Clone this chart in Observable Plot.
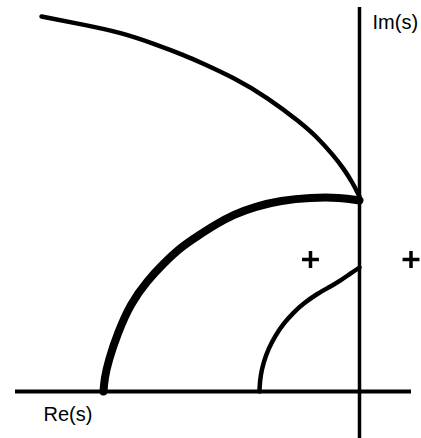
<!DOCTYPE html>
<html>
<head>
<meta charset="utf-8">
<script src="https://cdn.jsdelivr.net/npm/d3@7"></script>
<script src="https://cdn.jsdelivr.net/npm/@observablehq/plot@0.6"></script>
<style>
  html, body { margin: 0; padding: 0; background: #fff; }
  svg { display: block; }
</style>
</head>
<body>
<div id="chart"></div>
<script>
// Root-locus branches in the s-plane, [Re(s), Im(s)]
const upperBranch = [
  [-3.18, 3.75], [-2.72, 3.66], [-2.39, 3.59], [-2.06, 3.48], [-1.72, 3.35],
  [-1.59, 3.29], [-1.26, 3.14], [-0.92, 2.94], [-0.59, 2.69], [-0.42, 2.54],
  [-0.26, 2.36], [-0.16, 2.23], [-0.07, 2.09], [0, 1.95]
];
const thickBranch = [
  [0, 1.91], [-0.19, 1.94], [-0.49, 1.94], [-0.79, 1.91], [-1.04, 1.85],
  [-1.26, 1.77], [-1.44, 1.67], [-1.61, 1.56], [-1.79, 1.44], [-1.96, 1.28],
  [-2.12, 1.11], [-2.29, 0.88], [-2.42, 0.58], [-2.51, 0.31], [-2.55, 0.13],
  [-2.56, 0]
];
const lowerBranch = [
  [0, 1.24], [-0.09, 1.18], [-0.19, 1.11], [-0.29, 1.05], [-0.42, 0.98],
  [-0.56, 0.88], [-0.66, 0.79], [-0.76, 0.68], [-0.84, 0.56], [-0.91, 0.43],
  [-0.96, 0.29], [-0.99, 0.16], [-1.00, 0.03], [-1.00, 0]
];
const markers = [[-0.49, 1.32], [0.515, 1.32]];
const axisLabels = ["Re(s)", "Im(s)"];
const axisLabelPos = [[-3.16, -0.29], [0.13, 3.63]];
const realAxisExtent = [-3.44, 0.52];
const imagAxisExtent = [-0.47, 3.84];

const labels = axisLabels.map((t, i) => ({text: t, x: axisLabelPos[i][0], y: axisLabelPos[i][1]}));

const chart = Plot.plot({
  width: 421,
  height: 438,
  margin: 0,
  x: {domain: [-3.59, 0.62], axis: null},
  y: {domain: [-0.47, 3.91], axis: null},
  style: {background: "#fff"},
  marks: [
    Plot.ruleY([0], {x1: realAxisExtent[0], x2: realAxisExtent[1], stroke: "#000", strokeWidth: 4}),
    Plot.ruleX([0], {y1: imagAxisExtent[0], y2: imagAxisExtent[1], stroke: "#000", strokeWidth: 3.5}),
    Plot.line(upperBranch, {x: d => d[0], y: d => d[1], stroke: "#000", strokeWidth: 4.5, curve: "basis", strokeLinecap: "round"}),
    Plot.line(thickBranch, {x: d => d[0], y: d => d[1], stroke: "#000", strokeWidth: 8, curve: "basis"}),
    Plot.line(lowerBranch, {x: d => d[0], y: d => d[1], stroke: "#000", strokeWidth: 4.5, curve: "basis"}),
    Plot.dot(markers, {x: d => d[0], y: d => d[1], symbol: "plus", r: 5.5, stroke: "#000", strokeWidth: 3.5}),
    Plot.text(labels, {x: "x", y: "y", text: "text", textAnchor: "start", lineAnchor: "bottom",
      fontSize: 20, fontFamily: "Liberation Sans, Arial, sans-serif", fill: "#000"})
  ]
});
document.getElementById("chart").appendChild(chart);
</script>
</body>
</html>
